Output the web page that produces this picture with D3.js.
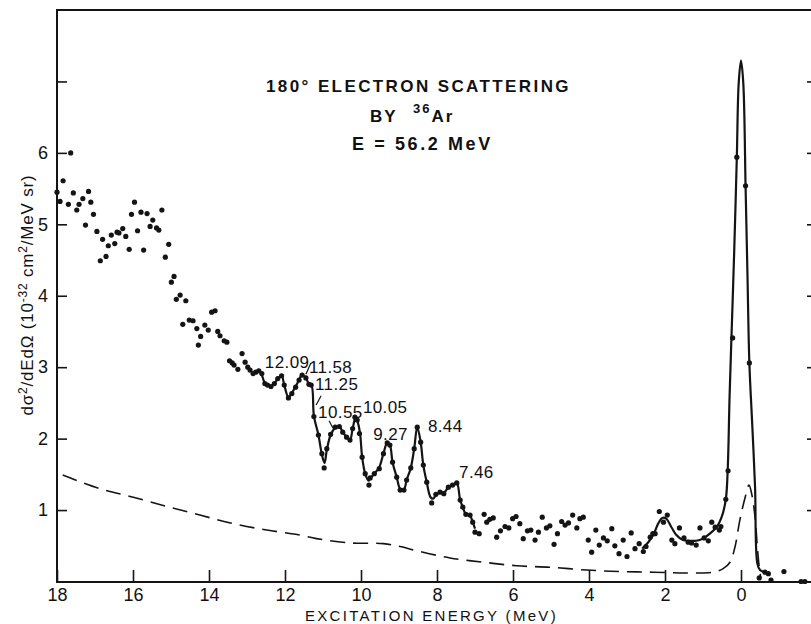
<!DOCTYPE html>
<html>
<head>
<meta charset="utf-8">
<script src="https://cdn.jsdelivr.net/npm/d3@7/dist/d3.min.js"></script>
<style>
  html, body { margin: 0; padding: 0; background: #fff; }
  svg { display: block; }
  text { font-family: "Liberation Sans", Arial, sans-serif; fill: #111; }
</style>
</head>
<body>
<svg id="chart" width="811" height="624"></svg>
<script>
// Measured spectrum: [excitation energy (MeV), cross section (1e-32 cm^2/MeV sr)]
const continuumPoints = [
  [18.00,5.45],[17.92,5.32],[17.84,5.61],[17.70,5.28],[17.64,6.00],[17.57,5.44],
  [17.48,5.20],[17.42,5.28],[17.32,5.36],[17.25,4.99],[17.17,5.46],[17.11,5.31],
  [17.04,5.14],[16.95,4.90],[16.86,4.49],[16.80,4.79],[16.71,4.55],[16.65,4.70],
  [16.57,4.85],[16.48,4.73],[16.42,4.89],[16.37,4.88],[16.27,4.94],[16.19,4.83],
  [16.10,4.65],[16.04,5.14],[15.96,5.31],[15.88,4.91],[15.79,5.17],[15.72,4.64],
  [15.63,5.15],[15.55,4.97],[15.48,5.06],[15.38,4.95],[15.32,4.92],[15.24,5.20],
  [15.15,4.54],[15.06,4.72],[14.99,4.19],[14.92,4.27],[14.86,3.95],[14.76,4.01],
  [14.69,3.60],[14.61,3.93],[14.52,3.66],[14.42,3.65],[14.32,3.54],[14.28,3.31],
  [14.22,3.43],[14.11,3.59],[14.02,3.52],[13.93,3.77],[13.84,3.79],[13.77,3.50],
  [13.71,3.44],[13.60,3.37],[13.53,3.35],[13.46,3.09],[13.39,3.06],[13.34,3.03],
  [13.24,2.97],[13.13,3.19],[13.05,3.07],[12.98,3.00],[12.92,2.96],[12.84,2.91],
  [12.77,2.93],[12.69,2.95]
];
const resonancePoints = [
  [12.61,2.91],[12.53,2.77],[12.46,2.75],[12.37,2.73],[12.28,2.77],[12.19,2.84],
  [12.09,2.88],[12.02,2.75],[11.91,2.57],[11.82,2.63],[11.72,2.72],[11.63,2.82],
  [11.55,2.89],[11.45,2.85],[11.37,2.76],[11.31,2.75],[11.24,2.31],[11.12,2.05],
  [11.03,1.79],[10.97,1.59],[10.90,1.86],[10.80,2.06],[10.68,2.16],[10.57,2.17],
  [10.48,2.09],[10.38,2.02],[10.29,1.98],[10.22,2.14],[10.16,2.30],[10.10,2.26],
  [10.04,2.07],[9.97,1.74],[9.89,1.51],[9.79,1.35],[9.76,1.45],[9.65,1.51],
  [9.52,1.58],[9.41,1.79],[9.31,1.94],[9.24,1.91],[9.17,1.67],[9.06,1.46],
  [8.97,1.28],[8.87,1.28],[8.80,1.42],[8.69,1.59],[8.60,1.86],[8.52,2.16],
  [8.43,1.95],[8.36,1.63],[8.27,1.39],[8.14,1.10],[8.03,1.22],[7.92,1.25],
  [7.82,1.23],[7.70,1.32],[7.59,1.35],[7.48,1.38],[7.39,1.14],[7.32,1.04],
  [7.24,0.94],[7.13,0.93],[7.06,0.83],[7.00,0.69],[6.89,0.67]
];
const lowEnergyPoints = [
  [6.76,0.94],[6.69,0.83],[6.61,0.87],[6.52,0.89],[6.43,0.62],[6.33,0.71],
  [6.21,0.77],[6.11,0.75],[6.01,0.88],[5.92,0.91],[5.82,0.81],[5.73,0.60],
  [5.62,0.71],[5.53,0.72],[5.42,0.58],[5.33,0.69],[5.23,0.90],[5.12,0.75],
  [5.03,0.78],[4.92,0.52],[4.83,0.67],[4.72,0.84],[4.63,0.79],[4.54,0.82],
  [4.43,0.93],[4.32,0.75],[4.24,0.88],[4.15,0.90],[4.02,0.58],[3.93,0.41],
  [3.82,0.72],[3.73,0.51],[3.62,0.61],[3.52,0.57],[3.40,0.74],[3.32,0.50],
  [3.21,0.39],[3.10,0.58],[3.00,0.35],[2.89,0.68],[2.79,0.46],[2.68,0.53],
  [2.57,0.42],[2.50,0.49],[2.39,0.62],[2.32,0.67],[2.26,0.67],[2.15,0.98],
  [2.04,0.83],[1.94,0.93],[1.82,0.58],[1.74,0.53],[1.62,0.75],[1.50,0.61],
  [1.39,0.55],[1.30,0.54],[1.18,0.51],[1.08,0.75],[0.97,0.61],[0.86,0.57],
  [0.77,0.83],[0.68,0.76],[0.57,0.72],[0.53,0.77],[0.40,1.15],[0.34,1.55],
  [0.22,3.41],[0.11,5.94],[-0.12,5.54],[-0.22,3.06],[-0.48,0.05],[-0.63,0.13],
  [-0.72,0.11],[-0.79,0.02],[-1.13,0.14],[-1.58,0.00],[-1.68,0.00]
];

// Smooth curve drawn through the resolved levels
const resonanceCurve = [
  [12.62,2.92],[12.53,2.78],[12.46,2.75],[12.37,2.73],[12.28,2.77],[12.19,2.84],
  [12.09,2.88],[12.02,2.75],[11.91,2.58],[11.82,2.64],[11.72,2.73],[11.63,2.82],
  [11.56,2.89],[11.46,2.86],[11.37,2.76],[11.30,2.74],[11.24,2.32],[11.12,2.05],
  [11.03,1.78],[10.96,1.66],[10.90,1.84],[10.80,2.05],[10.68,2.15],[10.57,2.17],
  [10.48,2.09],[10.38,2.02],[10.29,1.98],[10.22,2.14],[10.14,2.30],[10.08,2.22],
  [10.02,2.05],[9.97,1.74],[9.89,1.51],[9.80,1.41],[9.76,1.44],[9.65,1.51],
  [9.52,1.60],[9.41,1.79],[9.31,1.94],[9.24,1.91],[9.17,1.67],[9.06,1.46],
  [8.97,1.30],[8.87,1.29],[8.80,1.42],[8.69,1.59],[8.60,1.86],[8.52,2.16],
  [8.43,1.95],[8.36,1.63],[8.27,1.39],[8.17,1.18],[8.10,1.16],[8.03,1.21],
  [7.92,1.25],[7.82,1.24],[7.70,1.32],[7.59,1.35],[7.48,1.38],[7.39,1.14],
  [7.32,1.04],[7.24,0.94],[7.13,0.92],[7.06,0.83],[7.00,0.74]
];
// Smooth curve through the 2 MeV bump and the elastic peak
const elasticCurve = [
  [2.60,0.46],[2.44,0.55],[2.31,0.65],[2.18,0.81],[2.07,0.89],[1.97,0.88],
  [1.83,0.76],[1.70,0.65],[1.53,0.58],[1.36,0.57],[1.18,0.57],[1.00,0.60],
  [0.82,0.67],[0.64,0.76],[0.51,0.90],[0.40,1.15],[0.35,1.56],[0.30,2.60],
  [0.24,3.60],[0.18,4.60],[0.11,5.94],[0.06,6.98],[0.00,7.29],[-0.06,6.98],
  [-0.12,5.54],[-0.17,4.30],[-0.22,3.06],[-0.30,2.15],[-0.37,1.32],[-0.43,0.25],
  [-0.50,0.16],[-0.62,0.13]
];
// Radiative tail (dashed)
const radiativeTail = [
  [17.85,1.49],[16.87,1.30],[15.99,1.18],[15.11,1.05],[14.24,0.93],[13.36,0.81],
  [12.48,0.72],[11.61,0.65],[11.17,0.60],[10.29,0.54],[9.41,0.53],[8.97,0.49],
  [8.53,0.43],[7.66,0.33],[6.78,0.27],[5.90,0.22],[5.03,0.20],[4.06,0.16],
  [3.18,0.14],[2.31,0.13],[1.43,0.12],[0.73,0.13],[0.47,0.18],[0.29,0.27],
  [0.16,0.48],[0.03,0.86],[-0.11,1.18],[-0.21,1.35],[-0.28,1.23],[-0.37,0.90],
  [-0.43,0.48],[-0.48,0.20],[-0.52,0.05]
];

// Level labels: [text, energy at text start, value at baseline]
const levelLabels = [
  ["12.09", 12.53, 2.99],
  ["11.58", 11.37, 2.92],
  ["11.25", 11.21, 2.68],
  ["10.55", 11.13, 2.29],
  ["10.05", 9.95, 2.36],
  ["9.27", 9.68, 1.98],
  ["8.44", 8.24, 2.09],
  ["7.46", 7.42, 1.45]
];
// Short leader strokes from labels to peaks: [E1, v1, E2, v2]
const leaders = [
  [11.32, 3.06, 11.45, 2.90],
  [11.05, 2.60, 11.18, 2.47],
  [10.84, 2.25, 10.74, 2.15]
];

const xTicks = [18, 16, 14, 12, 10, 8, 6, 4, 2, 0];
const yTicks = [1, 2, 3, 4, 5, 6, 7];
const yTickLabels = ["1", "2", "3", "4", "5", "6", ""];

const svg = d3.select("#chart");
const x = d3.scaleLinear().domain([18, -2]).range([57, 817]);
const y = d3.scaleLinear().domain([0, 8]).range([581.5, 10]);

const ink = "#141414";

// Axes
const gLeft = svg.append("g").attr("transform", "translate(57,0)")
  .call(d3.axisLeft(y).tickValues(yTicks).tickSize(-10).tickPadding(9)
    .tickFormat((d, i) => yTickLabels[i]));
gLeft.select(".domain").remove();
gLeft.selectAll(".tick line").attr("stroke", ink).attr("stroke-width", 1.6);
gLeft.selectAll(".tick text").attr("font-size", 18).attr("fill", ink)
  .style("font-family", "'Liberation Sans', Arial, sans-serif");

const gRight = svg.append("g").attr("transform", "translate(817,0)")
  .call(d3.axisRight(y).tickValues(yTicks).tickSize(-10).tickFormat(""));
gRight.select(".domain").remove();
gRight.selectAll(".tick line").attr("stroke", ink).attr("stroke-width", 1.6);

const gBottom = svg.append("g").attr("transform", "translate(0,582)")
  .call(d3.axisBottom(x).tickValues(xTicks).tickSize(-12).tickPadding(6).tickFormat(d3.format("d")));
gBottom.select(".domain").remove();
gBottom.selectAll(".tick line").attr("stroke", ink).attr("stroke-width", 1.6);
gBottom.selectAll(".tick text").attr("font-size", 18).attr("fill", ink)
  .style("font-family", "'Liberation Sans', Arial, sans-serif");

// Frame
svg.append("path")
  .attr("d", `M${x.range()[1]},10 H57 V582 H${x.range()[1]}`)
  .attr("fill", "none").attr("stroke", ink).attr("stroke-width", 2);

// Curves
const line = d3.line().x(d => x(d[0])).y(d => y(d[1])).curve(d3.curveCatmullRom.alpha(0.5));
svg.append("path").datum(radiativeTail).attr("d", line)
  .attr("fill", "none").attr("stroke", ink).attr("stroke-width", 1.6)
  .attr("stroke-dasharray", "15,8");
svg.append("path").datum(resonanceCurve).attr("d", line)
  .attr("fill", "none").attr("stroke", ink).attr("stroke-width", 2.2);
svg.append("path").datum(elasticCurve).attr("d", line)
  .attr("fill", "none").attr("stroke", ink).attr("stroke-width", 2.2);

// Data points
const allPoints = continuumPoints.concat(resonancePoints, lowEnergyPoints);
svg.append("g").selectAll("circle").data(allPoints).join("circle")
  .attr("cx", d => x(d[0])).attr("cy", d => y(d[1])).attr("r", 2.6).attr("fill", ink);

// Level labels and leaders
svg.append("g").selectAll("text").data(levelLabels).join("text")
  .attr("x", d => x(d[1])).attr("y", d => y(d[2]))
  .attr("font-size", 17).attr("letter-spacing", 0.4).attr("fill", ink).text(d => d[0]);
svg.append("g").selectAll("line").data(leaders).join("line")
  .attr("x1", d => x(d[0])).attr("y1", d => y(d[1]))
  .attr("x2", d => x(d[2])).attr("y2", d => y(d[3]))
  .attr("stroke", ink).attr("stroke-width", 1.2);

// Title block
const title = svg.append("g").attr("font-weight", "bold").attr("fill", ink);
title.append("text").attr("x", 266).attr("y", 92).attr("font-size", 17)
  .attr("letter-spacing", 2.4).text("180° ELECTRON SCATTERING");
const by = title.append("text").attr("x", 370).attr("y", 122).attr("font-size", 17)
  .attr("letter-spacing", 2);
by.append("tspan").text("BY");
by.append("tspan").attr("x", 413).attr("dy", -9).attr("font-size", 13).text("36");
by.append("tspan").attr("dy", 9).text("Ar");
title.append("text").attr("x", 352).attr("y", 150).attr("font-size", 18)
  .attr("letter-spacing", 2.6).text("E = 56.2 MeV");

// Axis titles
svg.append("text").attr("x", 305).attr("y", 621).attr("font-size", 15)
  .attr("letter-spacing", 2.3).attr("fill", ink).text("EXCITATION ENERGY (MeV)");

const yl = svg.append("text").attr("transform", "translate(33,295) rotate(-90)")
  .attr("text-anchor", "middle").attr("font-size", 17).attr("letter-spacing", 0.8).attr("fill", ink);
yl.append("tspan").text("dσ");
yl.append("tspan").attr("dy", -6).attr("font-size", 12).text("2");
yl.append("tspan").attr("dy", 6).text("/dEdΩ  (10");
yl.append("tspan").attr("dy", -6).attr("font-size", 12).text("-32");
yl.append("tspan").attr("dy", 6).text(" cm");
yl.append("tspan").attr("dy", -6).attr("font-size", 12).text("2");
yl.append("tspan").attr("dy", 6).text("/MeV sr)");
</script>
</body>
</html>
